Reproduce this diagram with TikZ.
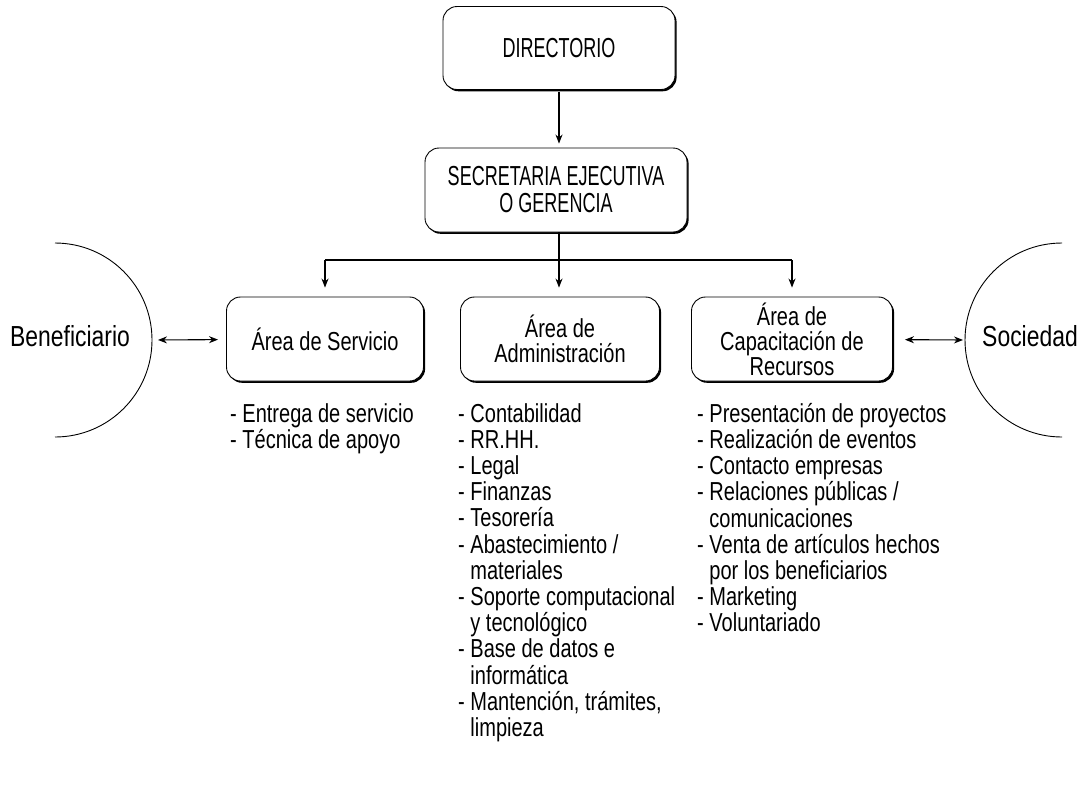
\documentclass[tikz,border=0pt]{standalone}
\usepackage{fontspec}
\setmainfont{Liberation Sans}[FakeStretch=0.77]
\newfontfamily\capsfam{Liberation Sans}[FakeStretch=0.655]
\newfontfamily\sidefam{Liberation Sans}[FakeStretch=0.79]
\usetikzlibrary{arrows.meta,shadows}

\newcommand{\capsfont}{\capsfam\fontsize{27.5}{27}\selectfont}
\newcommand{\orgfont}{\fontsize{26}{25}\selectfont}
\newcommand{\sidefont}{\sidefam\fontsize{29}{29}\selectfont}
\newcommand{\listfont}{\fontsize{26}{26.2}\selectfont}
\newcommand{\ind}{\hphantom{- }}

\begin{document}
\begin{tikzpicture}[x=1pt,y=-1pt,
  orgbox/.style={draw=black, line width=0.9pt, rounded corners=14pt, fill=white,
    align=center, font=\orgfont, inner sep=0pt,
    drop shadow={shadow xshift=1.6pt, shadow yshift=-1.8pt, fill=black, opacity=1}},
  capsbox/.style={orgbox, font=\capsfont},
  itemlist/.style={align=left, font=\listfont, inner sep=0pt, anchor=north west},
  side/.style={font=\sidefont, inner sep=0pt, anchor=base},
  link/.style={line width=1.1pt, -{Stealth[length=9pt,width=7pt]}},
  bus/.style={line width=1.8pt},
  twoway/.style={line width=1.1pt, {Stealth[length=9pt,width=7pt]}-{Stealth[length=9pt,width=7pt]}},
  rim/.style={line width=0.9pt}]

\useasboundingbox (0,0) rectangle (1084,788);
\fill[white] (0,0) rectangle (1084,788);

% hierarchy boxes
\node[capsbox, minimum width=232pt, minimum height=83pt] (dir) at (559,48) {DIRECTORIO};
\node[capsbox, minimum width=262pt, minimum height=84pt] (sec) at (556,190)
  {SECRETARIA EJECUTIVA\\O GERENCIA};
\node[orgbox, minimum width=197pt, minimum height=84pt] (serv) at (325,339) {Área de Servicio};
\node[orgbox, minimum width=199pt, minimum height=84pt] (adm) at (560,339) {Área de\\Administración};
\node[orgbox, minimum width=201pt, minimum height=84pt] (cap) at (792,339)
  {Área de\\Capacitación de\\Recursos};

% connectors
\coordinate (busmid) at (559,260);
\draw[link, shorten <=2pt, shorten >=4pt] (dir.south -| busmid) -- (sec.north -| busmid);
\draw[link, shorten >=9pt] (sec.south -| busmid) -- (adm.north -| busmid);
\draw[bus] (serv.north |- busmid) -- (cap.north |- busmid);
\draw[link, shorten >=9pt] (serv.north |- busmid) -- (serv.north);
\draw[link, shorten >=9pt] (cap.north |- busmid) -- (cap.north);

% outside parties
\draw[rim] (55,243) arc[start angle=-90, end angle=90, radius=97];
\draw[rim] (1062,243) arc[start angle=-90, end angle=-270, radius=97];
\coordinate (benrim) at (152,340);
\coordinate (socrim) at (965,340);
\node[side] (ben) at (70,346) {Beneficiario};
\node[side] (soc) at (1030,346) {Sociedad};
\draw[twoway, shorten <=6pt, shorten >=8pt] (benrim) -- (serv);
\draw[twoway, shorten <=12pt, shorten >=2pt] (cap) -- (socrim);

% task lists
\node[itemlist] (servlist) at (230,403) {- Entrega de servicio\\- Técnica de apoyo};
\node[itemlist] (admlist) at (458,403) {- Contabilidad\\- RR.HH.\\- Legal\\- Finanzas\\- Tesorería\\
  - Abastecimiento /\\\ind materiales\\- Soporte computacional\\\ind y tecnológico\\
  - Base de datos e\\\ind informática\\- Mantención, trámites,\\\ind limpieza};
\node[itemlist] (caplist) at (697,403) {- Presentación de proyectos\\- Realización de eventos\\
  - Contacto empresas\\- Relaciones públicas /\\\ind comunicaciones\\
  - Venta de artículos hechos\\\ind por los beneficiarios\\- Marketing\\- Voluntariado};
\end{tikzpicture}
\end{document}
